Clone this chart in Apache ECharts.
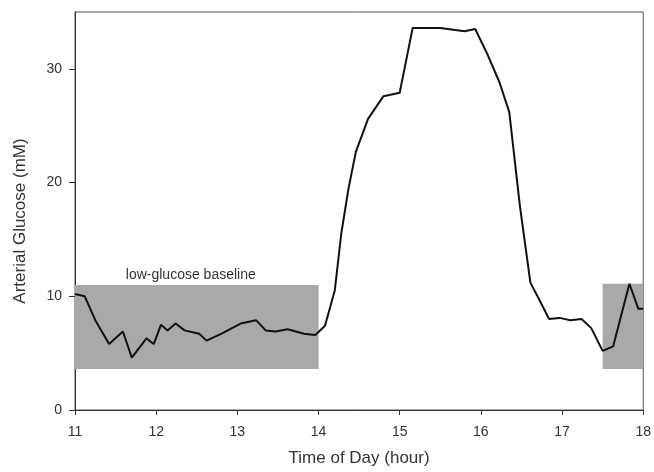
<!DOCTYPE html>
<html>
<head>
<meta charset="utf-8">
<script src="https://cdn.jsdelivr.net/npm/echarts@6/dist/echarts.min.js"></script>
<style>
  html, body { margin: 0; padding: 0; background: #fff; }
  #chart { width: 654px; height: 472px; }
</style>
</head>
<body>
<div id="chart"></div>
<script>
// time of day (hour) and arterial glucose (mM)
var hours = [11.00, 11.12, 11.25, 11.42, 11.59, 11.70, 11.88, 11.97, 12.06, 12.14,
  12.24, 12.35, 12.53, 12.62, 12.80, 13.04, 13.23, 13.35, 13.47, 13.62,
  13.82, 13.96, 14.08, 14.20, 14.28, 14.37, 14.46, 14.61, 14.80, 15.00,
  15.16, 15.50, 15.80, 15.93, 16.08, 16.23, 16.35, 16.48, 16.61, 16.72,
  16.84, 16.97, 17.10, 17.24, 17.36, 17.50, 17.63, 17.83, 17.94, 18.00];
var glucose = [10.2, 10.0, 7.9, 5.8, 6.9, 4.6, 6.3, 5.8, 7.5, 7.0,
  7.6, 7.0, 6.7, 6.1, 6.7, 7.6, 7.9, 7.0, 6.9, 7.1,
  6.7, 6.6, 7.4, 10.5, 15.5, 19.5, 22.7, 25.6, 27.6, 27.9,
  33.6, 33.6, 33.3, 33.5, 31.3, 28.8, 26.2, 18.0, 11.2, 9.7,
  8.0, 8.1, 7.9, 8.0, 7.2, 5.2, 5.6, 11.1, 8.9, 8.9];

// shaded baseline windows: [x0, x1, y0, y1]
var baselineWindows = [
  [11, 14, 3.6, 11.0],
  [17.5, 18, 3.6, 11.1]
];
var baselineLabel = 'low-glucose baseline';

var xTicks = [11, 12, 13, 14, 15, 16, 17, 18];
var yTicks = [0, 10, 20, 30];

var chart = echarts.init(document.getElementById('chart'));

var lineData = hours.map(function (h, i) { return [h, glucose[i]]; });

var areas = baselineWindows.map(function (w, i) {
  return [
    {
      coord: [w[0], w[3]],
      label: {
        show: i === 0,
        position: 'top',
        offset: [-6, 2],
        formatter: baselineLabel,
        color: '#333',
        fontSize: 14,
        fontFamily: 'Liberation Sans'
      }
    },
    { coord: [w[1], w[2]] }
  ];
});

var option = {
  animation: false,
  textStyle: { fontFamily: 'Liberation Sans' },
  grid: {
    left: 75,
    right: 6,
    top: 12,
    bottom: 58,
    show: true,
    borderColor: '#555',
    borderWidth: 1,
    backgroundColor: 'transparent'
  },
  xAxis: {
    type: 'value',
    min: 11,
    max: 18,
    interval: 1,
    name: 'Time of Day (hour)',
    nameLocation: 'middle',
    nameGap: 40,
    nameTextStyle: { fontSize: 17, color: '#333' },
    axisLine: { onZero: false, lineStyle: { color: '#333', width: 1 } },
    axisTick: { length: 5, lineStyle: { color: '#333' }, customValues: xTicks },
    axisLabel: { fontSize: 14, color: '#333', margin: 15, customValues: xTicks },
    splitLine: { show: false }
  },
  yAxis: {
    type: 'value',
    min: 0,
    max: 35,
    interval: 10,
    name: 'Arterial Glucose (mM)',
    nameLocation: 'middle',
    nameGap: 46,
    nameTextStyle: { fontSize: 17, color: '#333', padding: [0, 20, 0, 0] },
    axisLine: { show: true, lineStyle: { color: '#333', width: 1 } },
    axisTick: { show: true, length: 6, lineStyle: { color: '#333' }, customValues: yTicks },
    axisLabel: { fontSize: 14, color: '#333', margin: 13, customValues: yTicks },
    splitLine: { show: false }
  },
  series: [
    {
      type: 'line',
      data: lineData,
      showSymbol: false,
      z: 3,
      lineStyle: { color: '#111', width: 2 },
      markArea: {
        silent: true,
        itemStyle: { color: '#a9a9a9', opacity: 1 },
        data: areas
      }
    }
  ]
};

chart.setOption(option);
</script>
</body>
</html>
